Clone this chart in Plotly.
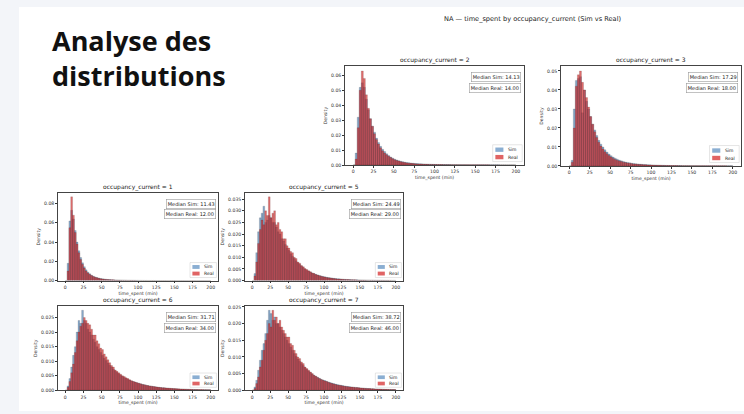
import plotly.graph_objects as go

# ---------------- data (density x 1000, bins of 2.5 min from 0 to 200) ----------------
BIN_START = 0.0
BIN_WIDTH = 2.5
N_BINS = 80

OCCUPANCY = [2, 3, 1, 5, 6, 7]

SIM_OCC2 = [0, 8, 32, 52, 55, 52, 44, 37, 31, 26,
            22, 18, 15, 12.5, 10.5, 9, 7.5, 6.3, 5.4, 4.6,
            3.9, 3.4, 2.9, 2.5, 2.2, 1.9, 1.7, 1.5, 1.3, 1.2,
            1.05, 0.95, 0.85, 0.8, 0.7, 0.65, 0.6, 0.55, 0.5, 0.46,
            0.43, 0.4, 0.37, 0.35, 0.33, 0.3, 0.28, 0.27, 0.25, 0.24,
            0.22, 0.21, 0.2, 0.19, 0.18, 0.17, 0.16, 0.15, 0.15, 0.14,
            0.13, 0.13, 0.12, 0.12, 0.11, 0.11, 0.1, 0.1, 0.1, 0.09,
            0.09, 0.09, 0.08, 0.08, 0.08, 0.07, 0.07, 0.07, 0.07, 0.06]
REAL_OCC2 = [0, 4, 25, 50, 63, 58, 47, 38, 31, 26,
             21, 17, 14, 11.5, 9.5, 8, 6.8, 5.8, 5, 4.2,
             3.5, 3, 2.6, 2.2, 1.9, 1.6, 1.4, 1.2, 1.1, 0.95,
             0.85, 0.75, 0.7, 0.6, 0.55, 0.5, 0.45, 0.42, 0.4, 0.36,
             0.33, 0.3, 0.28, 0.26, 0.25, 0.23, 0.22, 0.2, 0.19, 0.18,
             0.17, 0.16, 0.15, 0.15, 0.14, 0.13, 0.13, 0.12, 0.12, 0.11,
             0.11, 0.1, 0.1, 0.1, 0.09, 0.09, 0.09, 0.08, 0.08, 0.08,
             0.08, 0.07, 0.07, 0.07, 0.07, 0.06, 0.06, 0.06, 0.06, 0.05]

SIM_OCC3 = [0, 3, 30, 45, 46, 47, 28, 40, 34, 30,
            26, 22, 19, 16, 13.5, 11.5, 10, 8.5, 7.3, 6.3,
            5.4, 4.7, 4.1, 3.6, 3.1, 2.7, 2.4, 2.1, 1.9, 1.7,
            1.5, 1.35, 1.2, 1.1, 1, 0.9, 0.82, 0.75, 0.68, 0.62,
            0.57, 0.52, 0.48, 0.44, 0.41, 0.38, 0.35, 0.32, 0.3, 0.28,
            0.26, 0.24, 0.23, 0.21, 0.2, 0.19, 0.18, 0.17, 0.16, 0.15,
            0.14, 0.14, 0.13, 0.12, 0.12, 0.11, 0.11, 0.1, 0.1, 0.1,
            0.09, 0.09, 0.09, 0.08, 0.08, 0.08, 0.07, 0.07, 0.07, 0.07]
REAL_OCC3 = [0, 2, 20, 42, 48, 50, 44, 40, 36, 31,
             26, 22, 18, 15, 12.5, 10.5, 9, 7.5, 6.5, 5.5,
             4.7, 4, 3.4, 3, 2.6, 2.3, 2, 1.8, 1.6, 1.4,
             1.25, 1.1, 1, 0.9, 0.8, 0.72, 0.65, 0.6, 0.55, 0.5,
             0.46, 0.42, 0.39, 0.36, 0.33, 0.31, 0.29, 0.27, 0.25, 0.24,
             0.22, 0.21, 0.2, 0.19, 0.18, 0.17, 0.16, 0.15, 0.14, 0.14,
             0.13, 0.12, 0.12, 0.11, 0.11, 0.1, 0.1, 0.09, 0.09, 0.09,
             0.08, 0.08, 0.08, 0.07, 0.07, 0.07, 0.07, 0.06, 0.06, 0.06]

SIM_OCC1 = [0, 18, 62, 73, 64, 52, 40, 31, 24, 18.5,
            14.5, 11.2, 8.8, 7, 5.6, 4.6, 3.8, 3.1, 2.6, 2.2,
            1.85, 1.6, 1.35, 1.2, 1.05, 0.92, 0.82, 0.72, 0.64, 0.57,
            0.51, 0.46, 0.42, 0.38, 0.35, 0.32, 0.29, 0.27, 0.25, 0.23,
            0.21, 0.2, 0.18, 0.17, 0.16, 0.15, 0.14, 0.13, 0.13, 0.12,
            0.11, 0.11, 0.1, 0.1, 0.09, 0.09, 0.08, 0.08, 0.08, 0.07,
            0.07, 0.07, 0.06, 0.06, 0.06, 0.06, 0.05, 0.05, 0.05, 0.05,
            0.05, 0.04, 0.04, 0.04, 0.04, 0.04, 0.04, 0.03, 0.03, 0.03]
REAL_OCC1 = [0, 10, 55, 87, 68, 50, 38, 29, 22, 17,
             13, 10, 8, 6.4, 5.2, 4.2, 3.5, 2.9, 2.4, 2,
             1.7, 1.45, 1.25, 1.1, 0.95, 0.85, 0.75, 0.65, 0.58, 0.52,
             0.47, 0.42, 0.38, 0.35, 0.32, 0.29, 0.27, 0.25, 0.23, 0.21,
             0.2, 0.18, 0.17, 0.16, 0.15, 0.14, 0.13, 0.12, 0.12, 0.11,
             0.1, 0.1, 0.09, 0.09, 0.08, 0.08, 0.08, 0.07, 0.07, 0.07,
             0.06, 0.06, 0.06, 0.06, 0.05, 0.05, 0.05, 0.05, 0.05, 0.04,
             0.04, 0.04, 0.04, 0.04, 0.04, 0.03, 0.03, 0.03, 0.03, 0.03]

SIM_OCC5 = [0, 3, 12, 21, 27, 29, 32, 25, 26, 28,
            27, 25, 25, 23, 21, 20, 18, 17, 15.5, 14,
            13, 11.5, 10.5, 9.5, 8.5, 7.7, 7, 6.3, 5.6, 5,
            4.5, 4.1, 3.7, 3.3, 3, 2.7, 2.45, 2.2, 2, 1.8,
            1.6, 1.45, 1.3, 1.2, 1.1, 1, 0.9, 0.82, 0.75, 0.68,
            0.62, 0.57, 0.52, 0.48, 0.44, 0.4, 0.37, 0.34, 0.31, 0.29,
            0.27, 0.25, 0.23, 0.21, 0.2, 0.18, 0.17, 0.16, 0.15, 0.14,
            0.13, 0.12, 0.12, 0.11, 0.1, 0.1, 0.09, 0.09, 0.08, 0.08]
REAL_OCC5 = [0, 2, 8, 16, 22, 26, 24, 30, 28, 36,
             27, 29, 30, 24, 25, 22, 21, 18, 18, 15,
             14, 12.5, 12, 10, 9.5, 8, 7.5, 6.5, 6, 5.2,
             4.8, 4.2, 3.8, 3.3, 3, 2.6, 2.4, 2.1, 1.9, 1.7,
             1.5, 1.35, 1.2, 1.1, 1, 0.9, 0.8, 0.72, 0.66, 0.6,
             0.55, 0.5, 0.46, 0.42, 0.39, 0.36, 0.33, 0.31, 0.29, 0.27,
             0.25, 0.23, 0.22, 0.2, 0.19, 0.18, 0.17, 0.16, 0.15, 0.14,
             0.13, 0.13, 0.12, 0.11, 0.11, 0.1, 0.1, 0.09, 0.09, 0.09]

SIM_OCC6 = [0, 1.5, 4, 8, 12, 15, 20, 24, 23, 27.5,
            24, 23, 21, 20, 19, 17.5, 16.5, 15, 14, 13,
            12, 11, 10.2, 9.4, 8.6, 8, 7.3, 6.7, 6.2, 5.7,
            5.2, 4.8, 4.4, 4.1, 3.8, 3.5, 3.2, 3, 2.8, 2.6,
            2.4, 2.2, 2.05, 1.9, 1.75, 1.6, 1.5, 1.4, 1.3, 1.2,
            1.1, 1.02, 0.95, 0.88, 0.82, 0.76, 0.7, 0.65, 0.6, 0.56,
            0.52, 0.48, 0.45, 0.42, 0.39, 0.36, 0.34, 0.32, 0.3, 0.28,
            0.26, 0.24, 0.23, 0.21, 0.2, 0.19, 0.18, 0.17, 0.16, 0.15]
REAL_OCC6 = [0, 1, 3, 6, 9, 13, 17, 20, 22, 23,
             25, 24, 23, 22.5, 21, 19, 19, 17, 16, 14.5,
             14, 12.5, 11.5, 10.5, 9.5, 8.5, 8, 7, 6.5, 6,
             5.5, 5, 4.7, 4.3, 4, 3.6, 3.3, 3, 2.8, 2.6,
             2.4, 2.2, 2, 1.9, 1.75, 1.6, 1.5, 1.4, 1.3, 1.2,
             1.1, 1, 0.95, 0.9, 0.85, 0.8, 0.75, 0.7, 0.65, 0.6,
             0.56, 0.52, 0.48, 0.45, 0.42, 0.4, 0.37, 0.35, 0.33, 0.31,
             0.3, 0.28, 0.26, 0.25, 0.24, 0.22, 0.21, 0.2, 0.19, 0.18]

SIM_OCC7 = [0, 1, 3, 6, 9, 12, 14, 17, 21, 24,
            23, 21, 22, 20, 20, 19, 18, 17, 16, 15,
            14, 13, 12, 11, 10.2, 9.4, 8.7, 8, 7.4, 6.8,
            6.3, 5.8, 5.3, 4.9, 4.5, 4.2, 3.9, 3.6, 3.3, 3.1,
            2.9, 2.7, 2.5, 2.3, 2.15, 2, 1.85, 1.7, 1.6, 1.5,
            1.4, 1.3, 1.2, 1.12, 1.05, 0.98, 0.92, 0.86, 0.8, 0.75,
            0.7, 0.65, 0.61, 0.57, 0.53, 0.5, 0.47, 0.44, 0.41, 0.38,
            0.36, 0.34, 0.32, 0.3, 0.28, 0.26, 0.25, 0.23, 0.22, 0.21]
REAL_OCC7 = [0, 0.5, 2, 4, 7, 9, 12, 15, 17, 20,
             19, 24, 21, 22, 20, 21, 19, 18, 17, 16,
             16, 14, 13.5, 12, 11, 10, 9.5, 8.5, 8, 7,
             6.5, 6, 5.5, 5, 4.5, 4.2, 3.8, 3.5, 3.2, 3,
             2.8, 2.6, 2.4, 2.2, 2, 1.85, 1.7, 1.6, 1.5, 1.4,
             1.3, 1.2, 1.1, 1.05, 1, 0.95, 0.9, 0.85, 0.8, 0.75,
             0.7, 0.65, 0.6, 0.56, 0.53, 0.5, 0.47, 0.44, 0.41, 0.38,
             0.36, 0.34, 0.32, 0.3, 0.28, 0.27, 0.25, 0.24, 0.22, 0.21]

MEDIAN_SIM = [14.13, 17.29, 11.43, 24.49, 31.71, 38.72]
MEDIAN_REAL = [14.00, 18.00, 12.00, 29.00, 34.00, 46.00]

X_TICKS = [0, 25, 50, 75, 100, 125, 150, 175, 200]

SIM_SERIES = [SIM_OCC2, SIM_OCC3, SIM_OCC1, SIM_OCC5, SIM_OCC6, SIM_OCC7]
REAL_SERIES = [REAL_OCC2, REAL_OCC3, REAL_OCC1, REAL_OCC5, REAL_OCC6, REAL_OCC7]

# ---------------- layout / style ----------------
W, H = 744, 414
# panel boxes in pixels: (left, right, top, bottom)
PANEL_PX = [(345, 524, 65, 165), (561, 741, 65, 166),
            (58, 218, 193, 282), (245, 403, 193, 282),
            (58, 218, 308, 393), (245, 403, 308, 393)]
Y_DTICK = [0.01, 0.01, 0.02, 0.005, 0.005, 0.005]
Y_FMT = [".2f", ".2f", ".2f", ".3f", ".3f", ".3f"]

FONT = "DejaVu Sans"
SIM_FILL = "rgba(60,115,170,0.60)"
REAL_FILL = "rgba(210,40,40,0.68)"
EDGE = "rgba(40,20,20,0.45)"

centres = [BIN_START + BIN_WIDTH * (i + 0.5) for i in range(N_BINS)]

fig = go.Figure()
layout = dict(
    width=W, height=H,
    margin=dict(l=0, r=0, t=0, b=0),
    paper_bgcolor="#f3f5f9",
    plot_bgcolor="white",
    barmode="overlay",
    showlegend=False,
    font=dict(family=FONT, color="#222"),
)
shapes = [dict(type="rect", xref="paper", yref="paper", x0=19 / W, x1=1, y0=0, y1=1 - 5 / H,
               fillcolor="white", line=dict(width=0), layer="below")]
annotations = []

for k in range(6):
    sfx = "" if k == 0 else str(k + 1)
    xa, ya = "x" + sfx, "y" + sfx
    l, r, t, b = PANEL_PX[k]
    hpx = b - t
    sim = [v / 1000 for v in SIM_SERIES[k]]
    real = [v / 1000 for v in REAL_SERIES[k]]
    ymax = 1.05 * max(max(sim), max(real))

    fig.add_trace(go.Bar(x=centres, y=sim, width=BIN_WIDTH, name="Sim", xaxis=xa, yaxis=ya,
                         marker=dict(color=SIM_FILL, line=dict(color=EDGE, width=0.3))))
    fig.add_trace(go.Bar(x=centres, y=real, width=BIN_WIDTH, name="Real", xaxis=xa, yaxis=ya,
                         marker=dict(color=REAL_FILL, line=dict(color=EDGE, width=0.3))))

    layout["xaxis" + sfx] = dict(
        domain=[l / W, r / W], anchor=ya, range=[-10, 210],
        tickvals=X_TICKS, ticks="outside", ticklen=2, tickwidth=0.5, tickcolor="#333",
        tickfont=dict(size=4.6, family=FONT, color="#333"),
        showline=True, mirror=True, linecolor="#444", linewidth=0.6,
        showgrid=False, zeroline=False,
        title=dict(text="time_spent (min)", font=dict(size=4.6, family=FONT, color="#333"), standoff=2),
    )
    layout["yaxis" + sfx] = dict(
        domain=[1 - b / H, 1 - t / H], anchor=xa, range=[0, ymax],
        dtick=Y_DTICK[k], tickformat=Y_FMT[k], ticks="outside", ticklen=2, tickwidth=0.5, tickcolor="#333",
        tickfont=dict(size=4.6, family=FONT, color="#333"),
        showline=True, mirror=True, linecolor="#444", linewidth=0.6,
        showgrid=False, zeroline=False,
        title=dict(text="Density", font=dict(size=4.6, family=FONT, color="#333"), standoff=3),
    )

    xd, yd = xa + " domain", ya + " domain"
    # subplot title
    annotations.append(dict(text=f"occupancy_current = {OCCUPANCY[k]}", xref=xd, yref=yd, x=0.5, y=1,
                            xanchor="center", yanchor="bottom", showarrow=False,
                            font=dict(size=6, family=FONT, color="#222")))
    # median boxes
    for j, (lab, val) in enumerate([("Median Sim", MEDIAN_SIM[k]), ("Median Real", MEDIAN_REAL[k])]):
        annotations.append(dict(text=f"{lab}: {val:.2f}", xref=xd, yref=yd, x=0.985,
                                y=1 - (6 + 11 * j) / hpx,
                                xanchor="right", yanchor="top", showarrow=False,
                                bgcolor="white", bordercolor="#999", borderwidth=0.6, borderpad=1.2,
                                font=dict(size=5, family=FONT, color="#222")))
    # legend (drawn in panel coordinates)
    shapes.append(dict(type="rect", xref=xd, yref=yd, x0=0.825, x1=0.99, y0=0.035, y1=0.205,
                       fillcolor="white", line=dict(color="#cccccc", width=0.5)))
    for j, (lab, col) in enumerate([("Sim", "#8aaed2"), ("Real", "#e06464")]):
        yc = 0.155 - 0.075 * j
        shapes.append(dict(type="rect", xref=xd, yref=yd, x0=0.84, x1=0.885, y0=yc - 0.022, y1=yc + 0.022,
                           fillcolor=col, line=dict(width=0)))
        annotations.append(dict(text=lab, xref=xd, yref=yd, x=0.9, y=yc, xanchor="left", yanchor="middle",
                                showarrow=False, font=dict(size=4.5, family=FONT, color="#222")))

# figure suptitle
annotations.append(dict(text="NA — time_spent by occupancy_current (Sim vs Real)", xref="paper", yref="paper",
                        x=532 / W, y=1 - 17 / H, xanchor="center", yanchor="middle", showarrow=False,
                        font=dict(size=6.6, family=FONT, color="#222")))
# slide heading
annotations.append(dict(text="<b>Analyse des<br>distributions</b>", xref="paper", yref="paper",
                        x=50 / W, y=1 - 57 / H, xanchor="left", yanchor="middle", align="left",
                        showarrow=False, font=dict(size=27, family="Open Sans", color="#111")))

layout["shapes"] = shapes
layout["annotations"] = annotations
fig.update_layout(**layout)
fig.write_html("out.html", config={"displayModeBar": False},
               post_script="document.body.style.margin='0';document.body.style.overflow='hidden';")
